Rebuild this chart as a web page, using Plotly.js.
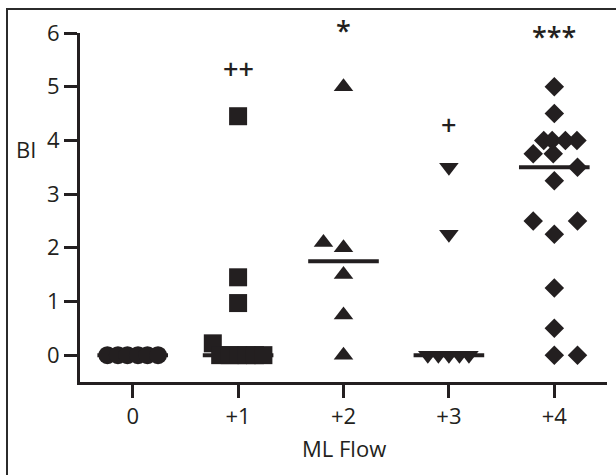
<!DOCTYPE html>
<html><head><meta charset="utf-8">
<script src="https://cdn.plot.ly/plotly-3.0.1.min.js"></script>
<style>
html,body{margin:0;padding:0;background:#fff}
#chart{position:absolute;left:0;top:0;width:616px;height:475px}
#frame{position:absolute;left:6px;top:8px;width:610px;height:467px;border-left:2px solid #2b2b2b;border-top:2px solid #2b2b2b;pointer-events:none}
</style></head>
<body><div id="chart"></div><div id="frame"></div>
<script>
const categories = ['0', '+1', '+2', '+3', '+4'];
const g0 = [0, 0, 0, 0, 0, 0];
const g0Jit = [-0.24, -0.14, -0.05, 0.05, 0.14, 0.24];
const g1 = [4.45, 1.45, 0.97, 0.22, 0, 0, 0, 0, 0, 0];
const g1Jit = [0, 0, 0, -0.24, -0.17, -0.08, 0, 0.08, 0.16, 0.24];
const g2 = [5, 2.1, 2.0, 1.5, 0.75, 0];
const g2Jit = [0, -0.19, 0, 0, 0, 0];
const g3 = [3.5, 2.25, 0, 0, 0, 0, 0];
const g3Jit = [0, 0, -0.2, -0.1, 0, 0.1, 0.19];
const g4 = [5, 4.5, 4, 4, 4, 4, 3.75, 3.75, 3.5, 3.25, 2.5, 2.5, 2.25, 1.25, 0.5, 0, 0];
const g4Jit = [0, 0, -0.1, -0.02, 0.105, 0.215, -0.2, -0.01, 0.22, 0, -0.2, 0.22, 0, 0, 0, 0, 0.22];
const significance = ['', '++', '*', '+', '***'];
const sigHeight = [null, 5.33, 6.04, 4.3, 5.94];
const yTicks = [0, 1, 2, 3, 4, 5, 6];

const INK = '#231f20';
const FONT = 'Open Sans, sans-serif';
const groups = [g0, g1, g2, g3, g4];
const jits = [g0Jit, g1Jit, g2Jit, g3Jit, g4Jit];
const symbols = ['circle', 'square', 'triangle-up', 'triangle-down', 'diamond'];
const sizes = [18, 18, 17, 17, 15];
const Y0 = -0.5, Y1 = 6;

function median(a) {
  const s = a.slice().sort((p, q) => p - q);
  const m = Math.floor(s.length / 2);
  return s.length % 2 ? s[m] : (s[m - 1] + s[m]) / 2;
}

const traces = [];
const mx = [], my = [];
groups.forEach((g, i) => {
  const md = median(g);
  mx.push(i - 0.335, i + 0.335, null);
  my.push(md, md, null);
});
traces.push({type: 'scatter', mode: 'lines', x: mx, y: my,
  line: {color: INK, width: 4}, hoverinfo: 'skip', showlegend: false});
groups.forEach((g, i) => {
  traces.push({
    type: 'scatter', mode: 'markers',
    x: g.map((v, k) => i + jits[i][k]), y: g,
    marker: {symbol: symbols[i], size: sizes[i], color: INK, line: {width: 0}},
    showlegend: false, cliponaxis: false
  });
});

const annotations = [];
significance.forEach((t, i) => {
  if (!t) return;
  annotations.push({x: i, y: (sigHeight[i] - Y0) / (Y1 - Y0), xref: 'x', yref: 'paper', text: t, showarrow: false,
    xanchor: 'center', yanchor: 'middle', font: {family: FONT, size: 27, color: INK, weight: 600}});
});
annotations.push({x: -0.102, y: 3.84, xref: 'paper', yref: 'y', text: 'BI', showarrow: false,
  xanchor: 'center', yanchor: 'middle', font: {family: FONT, size: 22, color: INK, weight: 500}});
annotations.push({x: 0.501, y: -0.19, xref: 'paper', yref: 'paper', text: 'ML Flow', showarrow: false,
  xanchor: 'center', yanchor: 'middle', font: {family: FONT, size: 22, color: INK, weight: 500}});

const axisCommon = {
  showline: true, linewidth: 3, linecolor: INK, ticks: 'outside', ticklen: 13, tickwidth: 3,
  tickcolor: INK, showgrid: false, zeroline: false, fixedrange: true,
  tickfont: {family: FONT, size: 22, color: INK, weight: 500}
};

const layout = {
  width: 616, height: 475,
  margin: {l: 80, r: 9, t: 33, b: 93},
  paper_bgcolor: 'rgba(0,0,0,0)', plot_bgcolor: 'rgba(0,0,0,0)',
  xaxis: Object.assign({}, axisCommon, {range: [-0.5, 4.5], tickmode: 'array',
    tickvals: categories.map((c, i) => i), ticktext: categories}),
  yaxis: Object.assign({}, axisCommon, {range: [Y0, Y1], tickmode: 'array', tickvals: yTicks,
    ticktext: yTicks.map(String)}),
  annotations: annotations,
  showlegend: false
};

Plotly.newPlot('chart', traces, layout, {displayModeBar: false, staticPlot: true});
</script>
</body></html>
